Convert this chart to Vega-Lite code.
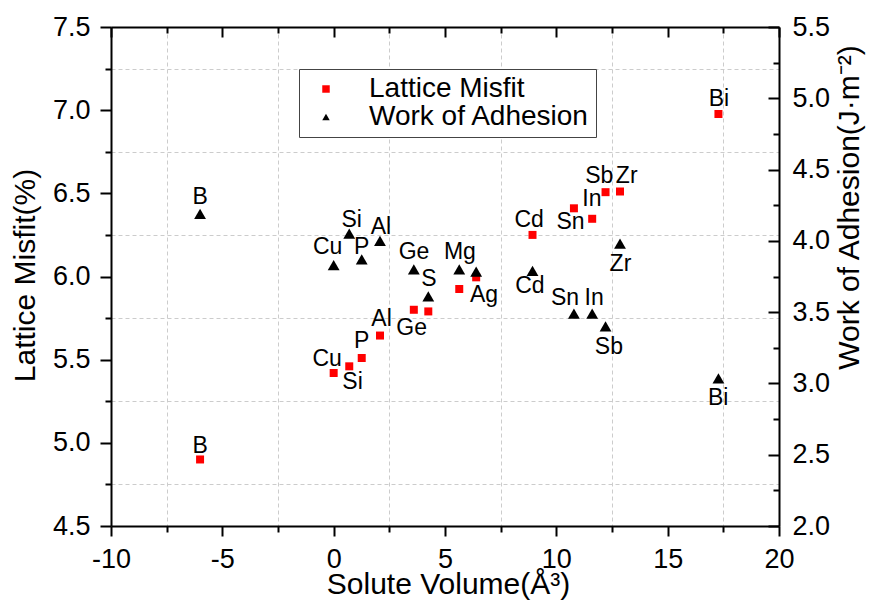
{
  "$schema": "https://vega.github.io/schema/vega-lite/v6.json",
  "width": 668,
  "height": 499,
  "autosize": {"type": "none"},
  "padding": {"left": 111, "top": 27, "right": 91, "bottom": 75},
  "background": "white",
  "config": {
    "view": {"stroke": null},
    "font": "Liberation Sans",
    "axis": {
      "domainColor": "black", "domainWidth": 2, "tickColor": "black", "tickWidth": 2,
      "labelColor": "black", "labelFont": "Liberation Sans", "labelFontSize": 27,
      "titleColor": "black", "titleFont": "Liberation Sans", "titleFontSize": 30, "titleFontWeight": "normal",
      "labelFlush": false, "labelOverlap": false, "labelBound": false,
      "gridColor": "#cccccc", "gridDash": [4, 3], "gridWidth": 1
    },
    "legend": {
      "orient": "none", "legendX": 188, "legendY": 42,
      "strokeColor": "#444444", "fillColor": "white",
      "padding": 6, "symbolOffset": 7, "labelOffset": 29, "rowPadding": -2,
      "labelFont": "Liberation Sans", "labelFontSize": 28, "labelColor": "black", "labelLimit": 500,
      "symbolSize": 56, "symbolStrokeWidth": 0
    }
  },
  "datasets": {
    "pts": [
      {"element": "B", "volume": -6.0, "misfit": 4.90, "wa": 4.19},
      {"element": "Cu", "volume": 0.0, "misfit": 5.42, "wa": 3.83},
      {"element": "Si", "volume": 0.7, "misfit": 5.46, "wa": 4.05},
      {"element": "P", "volume": 1.26, "misfit": 5.51, "wa": 3.87},
      {"element": "Al", "volume": 2.08, "misfit": 5.645, "wa": 4.0},
      {"element": "Ge", "volume": 3.6, "misfit": 5.80, "wa": 3.80},
      {"element": "S", "volume": 4.25, "misfit": 5.79, "wa": 3.61},
      {"element": "Mg", "volume": 5.64, "misfit": 5.925, "wa": 3.80},
      {"element": "Ag", "volume": 6.4, "misfit": 5.995, "wa": 3.785},
      {"element": "Cd", "volume": 8.93, "misfit": 6.25, "wa": 3.79},
      {"element": "Sn", "volume": 10.79, "misfit": 6.41, "wa": 3.49},
      {"element": "In", "volume": 11.61, "misfit": 6.347, "wa": 3.49},
      {"element": "Sb", "volume": 12.21, "misfit": 6.507, "wa": 3.40},
      {"element": "Zr", "volume": 12.86, "misfit": 6.511, "wa": 3.98},
      {"element": "Bi", "volume": 17.28, "misfit": 6.977, "wa": 3.036}
    ],
    "misfitLabels": [
      {"label": "B", "volume": -6.0, "misfit": 4.982},
      {"label": "Cu", "volume": -0.29, "misfit": 5.502},
      {"label": "Si", "volume": 0.85, "misfit": 5.366},
      {"label": "P", "volume": 1.26, "misfit": 5.612},
      {"label": "Al", "volume": 2.15, "misfit": 5.747},
      {"label": "Ge", "volume": 3.5, "misfit": 5.693},
      {"label": "Ag", "volume": 6.75, "misfit": 5.887},
      {"label": "Cd", "volume": 8.78, "misfit": 6.337},
      {"label": "Sn", "volume": 10.64, "misfit": 6.327},
      {"label": "In", "volume": 11.6, "misfit": 6.463},
      {"label": "Sb", "volume": 11.93, "misfit": 6.607},
      {"label": "Zr", "volume": 13.16, "misfit": 6.607},
      {"label": "Bi", "volume": 17.3, "misfit": 7.067}
    ],
    "waLabels": [
      {"label": "B", "volume": -6.0, "wa": 4.31},
      {"label": "Si", "volume": 0.81, "wa": 4.146},
      {"label": "Cu", "volume": -0.27, "wa": 3.955},
      {"label": "P", "volume": 1.26, "wa": 3.959},
      {"label": "Al", "volume": 2.12, "wa": 4.095},
      {"label": "Ge", "volume": 3.61, "wa": 3.924},
      {"label": "S", "volume": 4.28, "wa": 3.732},
      {"label": "Mg", "volume": 5.67, "wa": 3.924},
      {"label": "Cd", "volume": 8.81, "wa": 3.683},
      {"label": "Sn", "volume": 10.39, "wa": 3.597},
      {"label": "In", "volume": 11.7, "wa": 3.597},
      {"label": "Sb", "volume": 12.36, "wa": 3.258},
      {"label": "Zr", "volume": 12.88, "wa": 3.838},
      {"label": "Bi", "volume": 17.27, "wa": 2.898}
    ]
  },
  "layer": [
    {
      "data": {"name": "misfitLabels"},
      "mark": {"type": "text", "font": "Liberation Sans", "fontSize": 23, "color": "black", "baseline": "middle", "align": "center"},
      "encoding": {
        "x": {"field": "volume", "type": "quantitative",
          "scale": {"domain": [-10, 20], "nice": false, "zero": false},
          "axis": {"orient": "bottom", "values": [-7.5, -2.5, 2.5, 7.5, 12.5, 17.5], "labels": false, "domain": false, "tickSize": 6, "grid": true, "title": null}},
        "y": {"field": "misfit", "type": "quantitative",
          "scale": {"domain": [4.5, 7.5], "nice": false, "zero": false},
          "axis": {"orient": "left", "values": [4.75, 5.25, 5.75, 6.25, 6.75, 7.25], "labels": false, "domain": false, "tickSize": 6, "grid": true, "title": null}},
        "text": {"field": "label"}
      }
    },
    {
      "data": {"name": "waLabels"},
      "mark": {"type": "text", "font": "Liberation Sans", "fontSize": 23, "color": "black", "baseline": "middle", "align": "center"},
      "encoding": {
        "x": {"field": "volume", "type": "quantitative",
          "scale": {"domain": [-10, 20], "nice": false, "zero": false},
          "axis": {"orient": "top", "values": [-7.5, -2.5, 2.5, 7.5, 12.5, 17.5], "labels": false, "domain": false, "tickSize": -6, "grid": false, "title": null}},
        "y": {"field": "wa", "type": "quantitative",
          "scale": {"domain": [2, 5.5], "nice": false, "zero": false},
          "axis": {"orient": "right", "values": [2.25, 2.75, 3.25, 3.75, 4.25, 4.75, 5.25], "labels": false, "domain": false, "tickSize": -6, "grid": false, "title": null}},
        "text": {"field": "label"}
      }
    },
    {
      "data": {"name": "pts"},
      "mark": {"type": "point", "filled": true, "size": 64, "opacity": 1},
      "encoding": {
        "x": {"field": "volume", "type": "quantitative",
          "scale": {"domain": [-10, 20], "nice": false, "zero": false},
          "axis": {"orient": "bottom", "values": [-10, -5, 0, 5, 10, 15, 20], "tickSize": 10, "labelPadding": 10, "grid": false,
            "labelExpr": "datum.value < 0 ? '-' + abs(datum.value) : '' + datum.value",
            "title": "Solute Volume(Å³)", "titleX": 337, "titleY": 67, "titleBaseline": "alphabetic", "titleAlign": "center"}},
        "y": {"field": "misfit", "type": "quantitative",
          "scale": {"domain": [4.5, 7.5], "nice": false, "zero": false},
          "axis": {"orient": "left", "values": [4.5, 5, 5.5, 6, 6.5, 7, 7.5], "format": ".1f", "tickSize": 11, "labelPadding": 10, "grid": false,
            "title": "Lattice Misfit(%)", "titleAngle": 270, "titleX": -77, "titleY": 248, "titleBaseline": "alphabetic", "titleAlign": "center"}},
        "color": {"datum": "Lattice Misfit", "type": "nominal",
          "scale": {"domain": ["Lattice Misfit", "Work of Adhesion"], "range": ["#ff0000", "#000000"]},
          "legend": {"title": null}},
        "shape": {"datum": "Lattice Misfit", "type": "nominal",
          "scale": {"domain": ["Lattice Misfit", "Work of Adhesion"], "range": ["square", "triangle-up"]},
          "legend": {"title": null}}
      }
    },
    {
      "data": {"name": "pts"},
      "mark": {"type": "point", "filled": true, "size": 140, "opacity": 1},
      "encoding": {
        "x": {"field": "volume", "type": "quantitative",
          "scale": {"domain": [-10, 20], "nice": false, "zero": false},
          "axis": {"orient": "top", "values": [-10, -5, 0, 5, 10, 15, 20], "labels": false, "tickSize": -10, "grid": false, "title": null}},
        "y": {"field": "wa", "type": "quantitative",
          "scale": {"domain": [2, 5.5], "nice": false, "zero": false},
          "axis": {"orient": "right", "values": [2, 2.5, 3, 3.5, 4, 4.5, 5, 5.5], "format": ".1f", "tickSize": -11, "labelPadding": 24, "grid": false,
            "title": "Work of Adhesion(J·m⁻²)", "titleAngle": 270, "titleX": 79, "titleY": 180, "titleBaseline": "alphabetic", "titleAlign": "center"}},
        "color": {"datum": "Work of Adhesion", "type": "nominal"},
        "shape": {"datum": "Work of Adhesion", "type": "nominal"}
      }
    }
  ],
  "resolve": {"scale": {"x": "independent", "y": "independent"}}
}
